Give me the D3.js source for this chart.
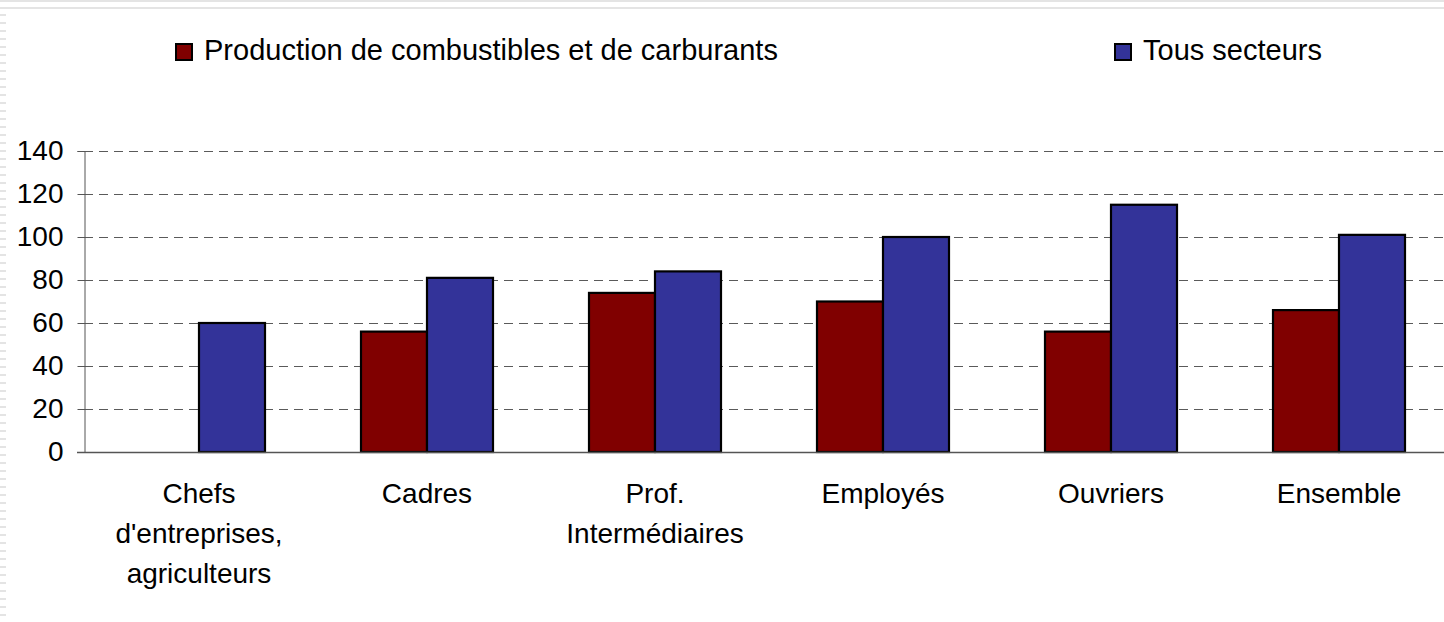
<!DOCTYPE html>
<html lang="fr">
<head>
<meta charset="UTF-8">
<title>Production de combustibles et de carburants</title>
<script src="https://d3js.org/d3.v7.min.js"></script>
<style>
  body { margin: 0; background: #fff; }
  svg { display: block; font-family: Arial, "Liberation Sans", sans-serif; }
</style>
</head>
<body>
<script>
// catégories et séries
const categories = [
  ["Chefs", "d'entreprises,", "agriculteurs"],
  ["Cadres"],
  ["Prof.", "Intermédiaires"],
  ["Employés"],
  ["Ouvriers"],
  ["Ensemble"]
];
const seriesNames = ["Production de combustibles et de carburants", "Tous secteurs"];
const production = [0, 56, 74, 70, 56, 66];
const tousSecteurs = [60, 81, 84, 100, 115, 101];
const yTicks = [0, 20, 40, 60, 80, 100, 120, 140];
const colors = ["#800000", "#333399"];

const W = 1444, H = 622;
const svg = d3.select("body").append("svg")
  .attr("width", W)
  .attr("height", H);

// petits décors gris du bord
svg.append("line").attr("x1", 0).attr("x2", W).attr("y1", 1).attr("y2", 1)
  .attr("stroke", "#e4e4e4").attr("stroke-width", 2);
svg.append("line").attr("x1", 0).attr("x2", W).attr("y1", 8).attr("y2", 8)
  .attr("stroke", "#e4e4e4").attr("stroke-width", 2);
svg.append("line").attr("x1", 3).attr("x2", 3).attr("y1", 14).attr("y2", H)
  .attr("stroke", "#e4e4e4").attr("stroke-width", 6)
  .attr("stroke-dasharray", "2,6");

const keys = categories.map((c, i) => i);
const x0 = d3.scaleBand().domain(keys).range([85, 1453]);
const x1 = d3.scaleBand().domain([0, 1]).range([48, 180]);
const y = d3.scaleLinear().domain([0, 140]).range([452, 151]);
const crisp = v => Math.round(v) + 0.5;

// grille
svg.append("g")
  .selectAll("line")
  .data(yTicks.filter(d => d > 0))
  .enter().append("line")
  .attr("x1", 84).attr("x2", W)
  .attr("y1", d => crisp(y(d))).attr("y2", d => crisp(y(d)))
  .attr("stroke", "#5a5a5a")
  .attr("stroke-width", 1)
  .attr("stroke-dasharray", "9,6");

// axe vertical
const yAxis = svg.append("g")
  .attr("transform", "translate(84.5,0)")
  .call(d3.axisLeft(y).tickValues(yTicks).tickSize(7).tickPadding(14));
yAxis.select(".domain").attr("stroke", "#555");
yAxis.selectAll(".tick").attr("transform", d => `translate(0,${crisp(y(d))})`);
yAxis.selectAll(".tick line").attr("stroke", "#555");
yAxis.selectAll(".tick text")
  .attr("font-size", 28)
  .attr("font-family", "Arial, 'Liberation Sans', sans-serif")
  .attr("fill", "#000");

// barres
const rows = keys.map(i => [production[i], tousSecteurs[i]]);
const groups = svg.append("g")
  .selectAll("g")
  .data(rows)
  .enter().append("g")
  .attr("transform", (d, i) => `translate(${x0(i)},0)`);

groups.selectAll("rect")
  .data(d => d.map((v, s) => ({ v, s })).filter(e => e.v > 0))
  .enter().append("rect")
  .attr("x", e => x1(e.s))
  .attr("width", x1.bandwidth())
  .attr("y", e => y(e.v))
  .attr("height", e => y(0) - y(e.v))
  .attr("fill", e => colors[e.s])
  .attr("stroke", "#000")
  .attr("stroke-width", 2.2);

// ligne de base
svg.append("line")
  .attr("x1", 77).attr("x2", W)
  .attr("y1", crisp(y(0))).attr("y2", crisp(y(0)))
  .attr("stroke", "#555").attr("stroke-width", 1.5);

// étiquettes des catégories
const labels = svg.append("g")
  .selectAll("text")
  .data(categories)
  .enter().append("text")
  .attr("x", (d, i) => x0(i) + x0.bandwidth() / 2)
  .attr("y", 503)
  .attr("text-anchor", "middle")
  .attr("font-size", 28)
  .attr("fill", "#000");
labels.selectAll("tspan")
  .data(d => d)
  .enter().append("tspan")
  .attr("x", function () { return d3.select(this.parentNode).attr("x"); })
  .attr("dy", (d, j) => j === 0 ? 0 : 40)
  .text(d => d);

// légende
const legendX = [175, 1114];
const legend = svg.append("g")
  .selectAll("g")
  .data(seriesNames)
  .enter().append("g")
  .attr("transform", (d, i) => `translate(${legendX[i]},43)`);
legend.append("rect")
  .attr("x", 1).attr("y", 1)
  .attr("width", 16).attr("height", 16)
  .attr("fill", (d, i) => colors[i])
  .attr("stroke", "#000")
  .attr("stroke-width", 2);
legend.append("text")
  .attr("x", 29)
  .attr("y", 17)
  .attr("font-size", 29)
  .attr("fill", "#000")
  .text(d => d);
</script>
</body>
</html>
